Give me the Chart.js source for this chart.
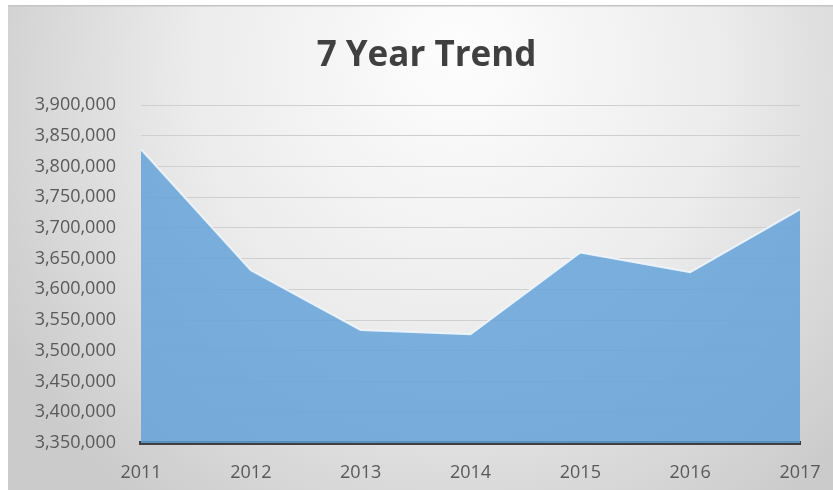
<!DOCTYPE html>
<html>
<head>
<meta charset="utf-8">
<script src="https://cdn.jsdelivr.net/npm/chart.js@4"></script>
<style>
  html, body { margin: 0; padding: 0; background: #ffffff; }
  #wrap { width: 833px; height: 490px; }
</style>
</head>
<body>
<div id="wrap"><canvas id="trend" width="833" height="490"></canvas></div>
<script>
// Yearly totals
const years = ['2011', '2012', '2013', '2014', '2015', '2016', '2017'];
const totals = [3828000, 3631000, 3534000, 3527000, 3660000, 3628000, 3730000];

// Value axis range
const yMin = 3350000;
const yMax = 3900000;
const yStep = 50000;

const chartTitle = '7 Year Trend';

// Soft grey radial backdrop behind the whole chart box
const backdrop = {
  id: 'backdrop',
  beforeDraw(chart) {
    const { ctx, width, height } = chart;
    const x0 = 8, y0 = 5;
    ctx.save();
    const g = ctx.createRadialGradient(width * 0.55, height * 0.1, 10, width * 0.55, height * 0.2, width * 0.62);
    g.addColorStop(0, '#fdfdfd');
    g.addColorStop(0.5, '#ececec');
    g.addColorStop(1, '#cbcbcb');
    ctx.fillStyle = g;
    ctx.fillRect(x0, y0, width - x0, height - y0);
    ctx.fillStyle = '#c4c4c4';
    ctx.fillRect(x0, y0, width - x0, 1.5);
    ctx.restore();
  }
};

new Chart(document.getElementById('trend'), {
  type: 'line',
  data: {
    labels: years,
    datasets: [{
      data: totals,
      fill: 'start',
      backgroundColor: 'rgba(96,160,216,0.82)',
      borderColor: 'rgba(240,246,252,0.9)',
      borderWidth: 2,
      pointRadius: 0,
      tension: 0
    }]
  },
  options: {
    responsive: false,
    animation: false,
    layout: { padding: { left: 20, right: 0, top: 39, bottom: 0 } },
    plugins: {
      legend: { display: false },
      tooltip: { enabled: false },
      title: {
        display: true,
        text: chartTitle,
        color: '#404040',
        font: { family: 'Open Sans', size: 35, weight: 'bold', lineHeight: 1.0 },
        padding: { top: 0, bottom: 31 }
      }
    },
    scales: {
      x: {
        offset: false,
        grid: { display: false, drawTicks: false },
        border: { display: true, color: '#404040', width: 4 },
        ticks: {
          color: '#595959',
          font: { family: 'Open Sans', size: 18 },
          padding: 19,
          maxRotation: 0
        },
        afterFit(s) { s.height = 47; s.paddingRight = 33; }
      },
      y: {
        min: yMin,
        max: yMax,
        grid: { color: '#cfcfcf', lineWidth: 1, drawTicks: false },
        border: { display: false },
        ticks: {
          stepSize: yStep,
          color: '#595959',
          font: { family: 'Open Sans', size: 18 },
          padding: 25,
          callback: v => v.toLocaleString('en-US')
        },
        afterFit(s) { s.width = 121; }
      }
    }
  },
  plugins: [backdrop]
});
</script>
</body>
</html>
